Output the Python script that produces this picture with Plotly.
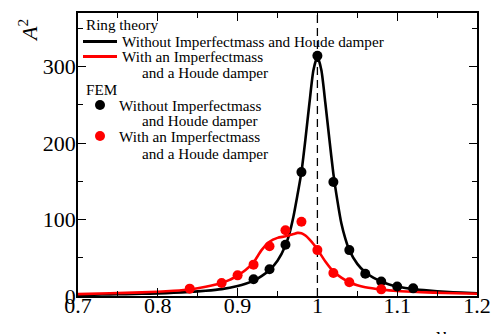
import plotly.graph_objects as go

# ---------------- data ----------------
nu_ring_black = [0.70, 0.72, 0.74, 0.76, 0.78, 0.80, 0.82, 0.84, 0.86, 0.88, 0.90, 0.91, 0.92, 0.93,
                 0.94, 0.95, 0.96, 0.965, 0.97, 0.975, 0.98, 0.985, 0.99, 0.995, 1.00, 1.005, 1.01,
                 1.015, 1.02, 1.025, 1.03, 1.035, 1.04, 1.05, 1.06, 1.07, 1.08, 1.09, 1.10, 1.12,
                 1.14, 1.16, 1.18, 1.20]
a2_ring_black = [1.5, 1.8, 2.1, 2.5, 2.9, 3.4, 4.2, 5.3, 6.8, 9.0, 13, 16, 20, 26,
                 34, 46, 66, 82, 104, 132, 162, 205, 252, 295, 313, 295, 252,
                 205, 160, 125, 95, 75, 60, 42, 31, 24, 19, 15, 12.5, 9,
                 7, 5.5, 4.5, 3.5]

nu_ring_red = [0.70, 0.74, 0.78, 0.80, 0.82, 0.84, 0.86, 0.88, 0.89, 0.90, 0.91, 0.92, 0.93, 0.94,
               0.95, 0.96, 0.97, 0.975, 0.98, 0.985, 0.99, 0.995, 1.00, 1.01, 1.02, 1.03, 1.04,
               1.05, 1.06, 1.08, 1.10, 1.13, 1.16, 1.20]
a2_ring_red = [2.5, 3.5, 4.8, 5.6, 6.8, 8.6, 12, 17, 21, 27, 34, 44, 60, 71,
               76, 78, 81, 82.5, 82, 79, 74, 68, 61, 45, 32, 24, 18,
               14, 11.5, 8.5, 6.5, 5, 4, 3]

nu_fem_black = [0.92, 0.94, 0.96, 0.98, 1.00, 1.02, 1.04, 1.06, 1.08, 1.10, 1.12]
a2_fem_black = [22, 35, 67, 162, 314, 149, 60, 29, 19, 12.5, 10]

nu_fem_red = [0.84, 0.88, 0.90, 0.92, 0.94, 0.96, 0.98, 1.00, 1.02, 1.04, 1.08]
a2_fem_red = [9.6, 17, 27, 41, 65, 86, 97, 60, 30, 18, 8.7]

x_ticks = [0.7, 0.8, 0.9, 1.0, 1.1, 1.2]
x_tick_labels = ["0.7", "0.8", "0.9", "1", "1.1", "1.2"]
y_ticks = [0, 100, 200, 300]
y_tick_labels = ["0", "100", "200", "300"]
resonance_nu = 1.0

legend_lines = [
    ("Ring theory", None, None),
    ("Without Imperfectmass and Houde damper", "black", "line"),
    ("With an Imperfectmass", "red", "line"),
    ("and a Houde damper", None, "cont"),
    ("FEM", None, None),
    ("Without Imperfectmass", "black", "marker"),
    ("and Houde damper", None, "cont"),
    ("With an Imperfectmass", "red", "marker"),
    ("and a Houde damper", None, "cont"),
]

# ---------------- layout helpers ----------------
W, H = 491, 334
ML, MR, MT, MB = 78, 14, 13, 38
PW, PH = W - ML - MR, H - MT - MB
FONT = "Liberation Serif"


def px(x):
    return (x - ML) / PW


def py(y):
    return (H - MB - y) / PH


fig = go.Figure()

fig.add_trace(go.Scatter(x=nu_ring_black, y=a2_ring_black, mode="lines",
                         line=dict(color="black", width=2.6, shape="spline", smoothing=0.6),
                         showlegend=False, hoverinfo="skip"))
fig.add_trace(go.Scatter(x=nu_ring_red, y=a2_ring_red, mode="lines",
                         line=dict(color="red", width=2.6, shape="spline", smoothing=0.6),
                         showlegend=False, hoverinfo="skip"))
fig.add_trace(go.Scatter(x=nu_fem_black, y=a2_fem_black, mode="markers",
                         marker=dict(color="black", size=10), showlegend=False))
fig.add_trace(go.Scatter(x=nu_fem_red, y=a2_fem_red, mode="markers",
                         marker=dict(color="red", size=10), showlegend=False))

fig.add_shape(type="line", xref="x", yref="paper", x0=resonance_nu, x1=resonance_nu, y0=0, y1=1,
              line=dict(color="black", width=1.3, dash="8px,5px"), layer="below")

# legend (drawn manually)
rows_y = [25, 41.5, 56.5, 72, 89, 105, 120.5, 136, 153]
for (text, color, kind), yy in zip(legend_lines, rows_y):
    if kind is None:
        xx = 84
    elif kind == "line":
        xx = 120
        fig.add_shape(type="line", xref="paper", yref="paper", x0=px(83), x1=px(117),
                      y0=py(yy), y1=py(yy), line=dict(color=color, width=2.8))
    elif kind == "marker":
        xx = 117
        fig.add_shape(type="circle", xref="paper", yref="paper", xsizemode="pixel",
                      ysizemode="pixel", xanchor=px(100), yanchor=py(yy),
                      x0=-5, x1=5, y0=-5, y1=5, fillcolor=color, line=dict(width=0))
    else:
        xx = 140
    fig.add_annotation(text=text, x=px(xx), y=py(yy), xref="paper", yref="paper",
                       xanchor="left", yanchor="middle", showarrow=False,
                       font=dict(family=FONT, size=15.2, color="black"))

fig.add_annotation(text="<i>A</i><sup>2</sup>", x=px(28), y=py(31), xref="paper", yref="paper",
                   textangle=-90, showarrow=False, xanchor="center", yanchor="middle",
                   font=dict(family=FONT, size=22, color="black"))
fig.add_annotation(text="<i>ν</i>", x=px(441), y=py(334), xref="paper", yref="paper",
                   showarrow=False, xanchor="center", yanchor="middle",
                   font=dict(family=FONT, size=22, color="black"))

axis_common = dict(showline=True, linecolor="black", linewidth=1.5, mirror="ticks",
                   ticks="inside", tickcolor="black", tickwidth=1.3, ticklen=8,
                   showgrid=False, zeroline=False, automargin=False,
                   tickfont=dict(family=FONT, size=22, color="black"))

fig.update_layout(
    width=W, height=H,
    margin=dict(l=ML, r=MR, t=MT, b=MB, autoexpand=False),
    paper_bgcolor="white", plot_bgcolor="white",
    font=dict(family=FONT, color="black"),
    xaxis=dict(range=[0.7, 1.2], tickvals=x_ticks, ticktext=x_tick_labels, ticklabelstandoff=-11,
               minor=dict(dtick=0.05, tick0=0.7, ticks="inside", ticklen=5, tickcolor="black", tickwidth=1.3),
               **axis_common),
    yaxis=dict(range=[0, 370], tickvals=y_ticks, ticktext=y_tick_labels, ticklabelstandoff=-4,
               minor=dict(dtick=50, tick0=0, ticks="inside", ticklen=5, tickcolor="black", tickwidth=1.3),
               **axis_common),
)

fig.write_html("out.html")
